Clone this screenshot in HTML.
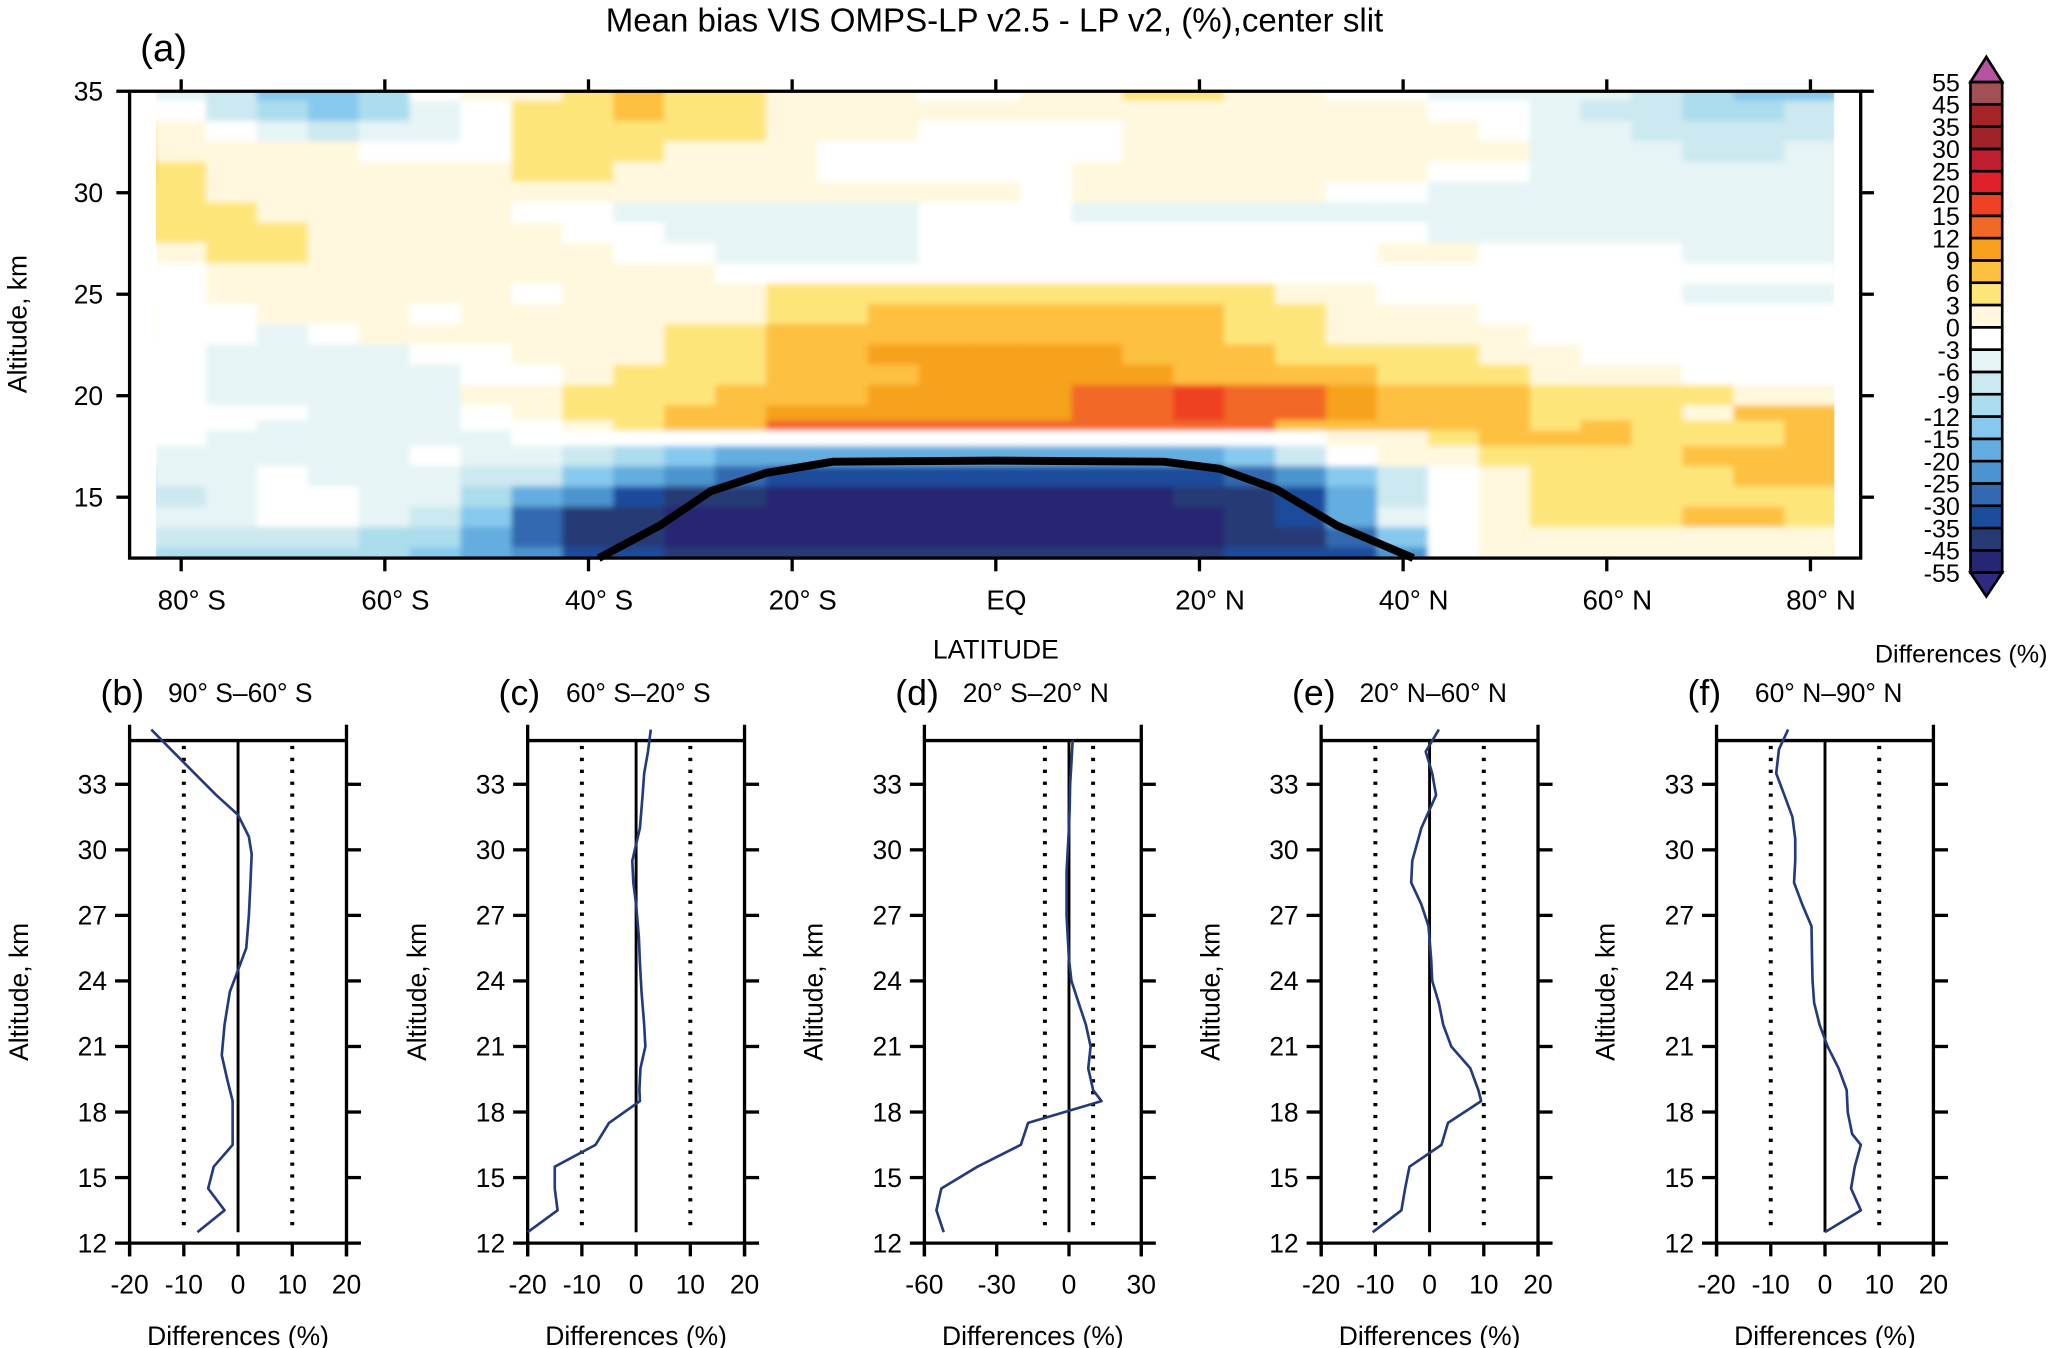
<!DOCTYPE html>
<html><head><meta charset="utf-8"><title>Mean bias VIS OMPS-LP</title>
<style>
html,body{margin:0;padding:0;background:#fff;}
svg{display:block;font-family:"Liberation Sans",Arial,sans-serif;}
</style></head>
<body>
<svg id="fig" width="2067" height="1348" viewBox="0 0 1563 1019.3" preserveAspectRatio="none" xmlns="http://www.w3.org/2000/svg">
<defs>
<clipPath id="mainclip"><rect x="118" y="69" width="1269" height="353"/></clipPath>
<filter id="soft" x="-2%" y="-2%" width="104%" height="104%"><feGaussianBlur stdDeviation="2.2"/></filter>
</defs>
</svg>
<script>
// ---------- Panel (a) data ----------
const latCats=[-85,-80,-75,-70,-65,-60,-55,-50,-45,-40,-35,-30,-25,-20,-15,-10,-5,0,5,10,15,20,25,30,35,40,45,50,55,60,65,70,75,80,85];
const altLevels=[35,34,33,32,31,30,29,28,27,26,25,24,23,22,21,20,19,18.5,18,17,16,15,14,13,12];
const biasRow35=[-1,-4,-7,-13,-13,-10,-1,1,1,4,7,4,4,1,1,1,-1,-1,1,1,4,4,1,1,-1,-1,-4,-4,-4,-4,-7,-10,-13,-13,-7];
const biasRow34=[1,-1,-7,-10,-13,-10,-4,-1,4,4,7,4,4,1,1,1,1,1,1,1,1,1,1,1,1,1,-1,-1,-4,-7,-7,-10,-10,-7,-4];
const biasRow33=[4,1,-1,-4,-7,-4,-4,-1,4,4,4,4,4,1,1,1,-1,-1,-1,-1,1,1,1,1,1,1,1,-1,-4,-4,-7,-7,-7,-7,-4];
const biasRow32=[7,1,1,1,1,-1,-1,-1,4,4,4,1,1,1,-1,-1,-1,-1,-1,-1,1,1,1,1,1,1,1,1,-4,-4,-4,-7,-7,-4,-4];
const biasRow31=[7,4,1,1,1,1,1,1,4,4,1,1,1,1,-1,-1,-1,-1,-1,1,1,1,1,1,1,1,-1,-1,-4,-4,-4,-4,-4,-4,-4];
const biasRow30=[4,4,1,1,1,1,1,1,1,1,1,1,1,1,1,1,1,1,-1,1,1,1,1,1,-1,-1,-4,-4,-4,-4,-4,-4,-4,-4,-4];
const biasRow29=[4,4,4,1,1,1,1,1,-1,-1,-4,-4,-4,-4,-4,-4,-1,-1,-1,-4,-4,-4,-4,-4,-4,-4,-4,-4,-4,-4,-4,-4,-4,-4,-4];
const biasRow28=[4,4,4,4,1,1,1,1,1,-1,-1,-4,-4,-4,-4,-4,-1,-1,-1,-1,-1,-1,-1,-1,-1,-1,-4,-4,-4,-4,-4,-4,-4,-4,-4];
const biasRow27=[-1,1,4,4,1,1,1,1,1,1,-1,-1,-4,-4,-4,-4,-1,-1,-1,-1,-1,-1,-1,-1,-1,1,1,-1,-1,-1,-1,-4,-4,-4,-4];
const biasRow26=[-1,-1,1,1,1,1,1,1,1,1,1,1,-1,-1,-1,-1,-1,-1,-1,-1,-1,-1,-1,-1,-1,-1,-1,-1,-1,-1,-1,-1,-1,-1,-4];
const biasRow25=[-1,-1,1,1,1,1,1,1,-1,1,1,1,1,4,4,4,4,4,4,4,4,4,4,1,1,-1,-1,-1,-1,-1,-1,-4,-4,-4,-1];
const biasRow24=[1,-1,-1,1,1,1,-1,1,1,1,1,1,1,4,4,7,7,7,7,7,7,7,4,4,1,1,1,-1,-1,-1,-1,-1,-1,-1,-1];
const biasRow23=[1,-1,-1,-4,-1,1,1,1,1,1,1,4,4,7,7,7,7,7,7,7,7,7,4,4,1,1,1,1,-1,-1,-1,-1,-1,-1,-1];
const biasRow22=[-1,-1,-4,-4,-4,-4,-1,-1,1,1,1,4,4,7,7,10,10,10,10,10,7,7,7,4,4,4,4,1,1,-1,-1,-1,-1,-1,-1];
const biasRow21=[-1,-1,-4,-4,-4,-4,-4,-1,-1,1,4,4,4,7,7,7,10,10,10,10,10,7,7,7,7,4,4,4,1,1,1,-1,-1,-1,-1];
const biasRow20=[-1,-1,-4,-4,-4,-4,-4,1,1,4,4,4,7,7,7,10,10,10,10,13,13,17,13,13,10,7,7,7,4,4,4,4,1,1,1];
const biasRow19=[-1,-1,-1,-1,-4,-4,-4,-1,1,4,4,7,7,10,10,10,10,10,10,13,13,17,13,13,10,7,7,7,4,4,4,1,7,7,7];
const biasRow185=[-1,-1,-1,-4,-4,-4,-4,-1,-1,1,4,7,7,13,13,13,13,13,13,13,13,13,13,7,7,7,7,7,4,7,4,4,4,7,7];
const biasRow18=[-1,-1,-4,-4,-4,-4,-4,-4,-1,-1,-1,-1,-1,-1,-1,-1,-1,-1,-1,-1,-1,-1,-1,-1,1,1,4,7,7,7,4,4,4,7,7];
const biasRow17=[-1,-4,-4,-4,-4,-4,-1,-4,-4,-7,-10,-13,-17,-17,-17,-17,-17,-17,-17,-17,-17,-17,-13,-7,-1,1,1,4,4,4,4,7,7,7,7];
const biasRow16=[-7,-4,-4,-1,-4,-4,-4,-7,-7,-13,-17,-22,-27,-32,-32,-32,-32,-32,-32,-32,-32,-32,-27,-22,-13,-7,-1,1,4,4,4,4,7,7,7];
const biasRow15=[-7,-7,-4,-1,-1,-4,-4,-10,-17,-22,-32,-40,-40,-50,-50,-50,-50,-50,-50,-50,-50,-40,-40,-32,-17,-7,-1,1,4,4,4,4,4,4,4];
const biasRow14=[-4,-4,-4,-1,-1,-4,-7,-13,-27,-40,-40,-50,-50,-50,-50,-50,-50,-50,-50,-50,-50,-50,-40,-32,-17,-4,-1,1,4,4,4,7,7,4,4];
const biasRow13=[-4,-7,-7,-7,-7,-10,-10,-17,-27,-40,-40,-50,-50,-50,-50,-50,-50,-50,-50,-50,-50,-50,-40,-40,-27,-13,-1,1,1,1,1,1,1,1,1];
const biasRow12=[-7,-10,-10,-10,-10,-10,-13,-17,-22,-32,-32,-40,-40,-40,-40,-40,-40,-40,-40,-40,-40,-40,-32,-32,-32,-22,-1,1,1,1,1,1,1,1,4];
const biasField=[biasRow35,biasRow34,biasRow33,biasRow32,biasRow31,biasRow30,biasRow29,biasRow28,biasRow27,biasRow26,biasRow25,biasRow24,biasRow23,biasRow22,biasRow21,biasRow20,biasRow19,biasRow185,biasRow18,biasRow17,biasRow16,biasRow15,biasRow14,biasRow13,biasRow12];
const tropoLat=[-39,-33,-28,-22.5,-16,0,16.5,22,27.5,33.5,41];
const tropoAlt=[12,13.6,15.3,16.2,16.75,16.8,16.75,16.4,15.4,13.6,12];
const latTicks=[-80,-60,-40,-20,0,20,40,60,80];
const latTickLabels=["80° S","60° S","40° S","20° S","EQ","20° N","40° N","60° N","80° N"];
const altTicks=[15,20,25,30,35];
// colour scale
const cLevels=[-55,-45,-35,-30,-25,-20,-15,-12,-9,-6,-3,0,3,6,9,12,15,20,25,30,35,45,55];
const cLabels=["-55","-45","-35","-30","-25","-20","-15","-12","-9","-6","-3","0","3","6","9","12","15","20","25","30","35","45","55"];
const cColors=["#262673","#273a74","#1a4c9c","#3269b0","#4b94cf","#64ade0","#87c9ee","#acdded","#cce8f0","#e6f4f5","#ffffff","#fff8de","#fee57a","#fec03f","#f6a21e","#f26826","#ef4124","#e02028","#be1e2d","#a0232a","#a52428","#a35054"];
const cLow="#2e2a80", cHigh="#b853a0";

// ---------- Profile panels ----------
const bAlt=[35.5,34.5,33.5,32.5,31.6,30.6,29.8,28.5,27,25.5,24.5,23.5,22,20.6,19.5,18.5,17.5,16.5,15.5,14.5,13.5,12.5];
const bVal=[-16,-12,-8,-4,0,2,2.5,2.3,2,1.5,0,-1.5,-2.5,-3,-2,-1,-1,-1,-4.5,-5.5,-2.5,-7.5];
const cAlt=[35.5,34.5,33.5,32.5,31,29.5,28.5,27.5,26,24.8,23.5,22,21,20,19,18.5,17.5,16.5,15.5,14.5,13.5,12.5];
const cVal=[2.7,2.2,1.5,1.2,0.7,-0.7,-0.5,0,0.5,0.7,1,1.5,1.7,0.8,0.6,0.7,-5,-7.5,-15,-15,-14.5,-20];
const dAlt=[35,34,33,32,31,30,29,28,27,26,25,24,23,22,21,20,19,18.5,17.5,16.5,15.5,14.5,13.5,12.5];
const dVal=[1.5,1,0.5,0.3,0,-0.5,-1,-1,-1,-0.5,0,1,4,7,9,8,10,13.5,-17,-20,-38,-53,-55,-52];
const eAlt=[35.5,34.5,33.5,32.5,31,29.5,28.5,27.5,26.5,25,24,23,22,21,20,19,18.5,17.5,16.5,15.5,14.5,13.5,12.5];
const eVal=[1.7,-0.7,0.5,1.2,-1.5,-3.2,-3.4,-1.5,-0.2,0.3,0.5,1.7,2.5,4,7.5,9,9.5,3.4,2.2,-3.7,-4.5,-5.2,-10.5];
const fAlt=[35.5,34.6,33.5,32.5,31.5,30.5,29.5,28.5,27.5,26.5,25,24,23,22,21,20,19,18,17,16.5,15.5,14.5,13.5,12.5];
const fVal=[-6.8,-8.5,-9,-7.5,-6,-5.5,-5.5,-5.7,-4.2,-2.5,-2.4,-2.3,-2,-1,0.5,2.5,4,4.2,5,6.6,5.5,4.8,6.6,0];
const profAltTicks=[12,15,18,21,24,27,30,33];
const rangeSmall=[-20,20], rangeWide=[-60,30];
const ticksSmall=[-20,-10,0,10,20], ticksWide=[-60,-30,0,30];

const NS="http://www.w3.org/2000/svg";
const svg=document.getElementById('fig');
function mk(tag,attrs,parent){const e=document.createElementNS(NS,tag);for(const k in attrs)e.setAttribute(k,attrs[k]);(parent||svg).appendChild(e);return e;}
function txt(s,attrs,parent){const e=mk('text',attrs,parent);e.textContent=s;return e;}

const AX0=98,AX1=1407,AY0=69,AY1=422;
function xLat(l){return 753+7.7*l;}
function yAlt(a){return AY1-(a-12)*(AY1-AY0)/23;}
function colorOf(v){if(v<cLevels[0])return cLow;if(v>=cLevels[cLevels.length-1])return cHigh;for(let i=0;i<cLevels.length-1;i++){if(v>=cLevels[i]&&v<cLevels[i+1])return cColors[i];}return cHigh;}

const gClip=mk('g',{'clip-path':'url(#mainclip)'});


const gField=mk('g',{filter:'url(#soft)'},gClip);
for(let r=0;r<altLevels.length;r++){
  const aTop=r===0?altLevels[0]+0.5:(altLevels[r-1]+altLevels[r])/2;
  const aBot=r===altLevels.length-1?altLevels[r]-0.5:(altLevels[r]+altLevels[r+1])/2;
  for(let c=0;c<latCats.length;c++){
    const lL=c===0?latCats[0]-2.5:(latCats[c-1]+latCats[c])/2;
    const lR=c===latCats.length-1?latCats[c]+2.5:(latCats[c]+latCats[c+1])/2;
    const x=xLat(lL),w=xLat(lR)-x,y=yAlt(aTop),h=yAlt(aBot)-y;
    const cell=mk('rect',{x:x-0.5,y:y-0.5,width:w+1,height:h+1,fill:colorOf(biasField[r][c])},gField);
    
    
  }
}
let tp='';for(let i=0;i<tropoLat.length;i++){tp+=(i?'L':'M')+xLat(tropoLat[i]).toFixed(1)+','+yAlt(tropoAlt[i]).toFixed(1);}
const tpl=mk('path',{d:tp,fill:'none',stroke:'#000','stroke-width':6,'stroke-linejoin':'round'});



const fa=mk('rect',{x:AX0,y:AY0,width:AX1-AX0,height:AY1-AY0,fill:'none',stroke:'#000','stroke-width':2.5});


latTicks.forEach((l,i)=>{
  const x=xLat(l);
  mk('line',{x1:x,y1:AY1,x2:x,y2:AY1+10,stroke:'#000','stroke-width':2.5});
  mk('line',{x1:x,y1:AY0,x2:x,y2:AY0-9,stroke:'#000','stroke-width':2.5});
  const t=txt(latTickLabels[i],{x:x+8,y:461,'font-size':21,'text-anchor':'middle'});
  
  
});
altTicks.forEach(a=>{
  const y=yAlt(a);
  mk('line',{x1:AX0-10,y1:y,x2:AX0,y2:y,stroke:'#000','stroke-width':2.5});
  mk('line',{x1:AX1,y1:y,x2:AX1+10,y2:y,stroke:'#000','stroke-width':2.5});
  const t=txt(String(a),{x:78,y:y+7,'font-size':20,'text-anchor':'end'});
  
  
});
let t;
t=txt('Mean bias VIS OMPS-LP v2.5 - LP v2, (%),center slit',{x:752,y:24,'font-size':25,'text-anchor':'middle'});


t=txt('(a)',{x:106,y:46,'font-size':29});


t=txt('Altitude, km',{x:0,y:0,'font-size':20,'text-anchor':'middle',transform:'translate(20,245) rotate(-90)'});


t=txt('LATITUDE',{x:753,y:498,'font-size':20,'text-anchor':'middle'});



const CBX=1490,CBW=24,CBY0=62,CBY1=433;
const step=(CBY1-CBY0)/cColors.length;
const cb=mk('g',{});


cColors.forEach((col,i)=>{
  const y=CBY1-(i+1)*step;
  const r=mk('rect',{x:CBX,y:y,width:CBW,height:step,fill:col,stroke:'#000','stroke-width':2},cb);
  
  
});
const tu=mk('path',{d:`M${CBX},${CBY0} L${CBX+CBW/2},${CBY0-19} L${CBX+CBW},${CBY0} Z`,fill:cHigh,stroke:'#000','stroke-width':2},cb);


const td=mk('path',{d:`M${CBX},${CBY1} L${CBX+CBW/2},${CBY1+18} L${CBX+CBW},${CBY1} Z`,fill:cLow,stroke:'#000','stroke-width':2},cb);


cLabels.forEach((s,i)=>{
  const y=CBY1-i*step;
  const l=txt(s,{x:CBX-8,y:y+7,'font-size':19,'text-anchor':'end'},cb);
  
  
});
t=txt('Differences (%)',{x:1483,y:501,'font-size':19,'text-anchor':'middle'});



const PY0=560,PY1=940,PW=164;
const panels=[
 {x0:98,alt:bAlt,val:bVal,range:rangeSmall,ticks:ticksSmall,label:'(b)',title:'90° S–60° S',name:'panel-b'},
 {x0:399,alt:cAlt,val:cVal,range:rangeSmall,ticks:ticksSmall,label:'(c)',title:'60° S–20° S',name:'panel-c'},
 {x0:699,alt:dAlt,val:dVal,range:rangeWide,ticks:ticksWide,label:'(d)',title:'20° S–20° N',name:'panel-d'},
 {x0:999,alt:eAlt,val:eVal,range:rangeSmall,ticks:ticksSmall,label:'(e)',title:'20° N–60° N',name:'panel-e'},
 {x0:1298,alt:fAlt,val:fVal,range:rangeSmall,ticks:ticksSmall,label:'(f)',title:'60° N–90° N',name:'panel-f'}
];
function pyAlt(a){return PY1-(a-12)*(PY1-PY0)/23;}
panels.forEach(p=>{
  const g=mk('g',{});
  
  
  const xv=v=>p.x0+(v-p.range[0])*PW/(p.range[1]-p.range[0]);
  const x1=p.x0+PW;
  mk('line',{x1:p.x0,y1:548,x2:p.x0,y2:950,stroke:'#000','stroke-width':2.5},g);
  mk('line',{x1:x1,y1:548,x2:x1,y2:950,stroke:'#000','stroke-width':2.5},g);
  mk('line',{x1:p.x0,y1:PY0,x2:x1,y2:PY0,stroke:'#000','stroke-width':2.5},g);
  profAltTicks.forEach(a=>{
    const y=pyAlt(a);
    mk('line',{x1:p.x0-11,y1:y,x2:p.x0,y2:y,stroke:'#000','stroke-width':2.5},g);
    mk('line',{x1:x1,y1:y,x2:x1+11,y2:y,stroke:'#000','stroke-width':2.5},g);
    const l=txt(String(a),{x:p.x0-17,y:y+7,'font-size':20,'text-anchor':'end'},g);
    
    
  });
  mk('line',{x1:p.x0,y1:PY1,x2:x1,y2:PY1,stroke:'#000','stroke-width':2.5},g);
  p.ticks.forEach(v=>{
    const x=xv(v);
    mk('line',{x1:x,y1:PY1,x2:x,y2:PY1+10,stroke:'#000','stroke-width':2.5},g);
    const l=txt(String(v),{x:x,y:978,'font-size':20,'text-anchor':'middle'},g);
    
    
  });
  const yTop=PY0, yBot=pyAlt(12.5);
  const z=mk('line',{x1:xv(0),y1:yTop,x2:xv(0),y2:yBot,stroke:'#000','stroke-width':2.2},g);
  
  
  [-10,10].forEach(v=>{
    const d=mk('line',{x1:xv(v),y1:yTop+4,x2:xv(v),y2:yBot,stroke:'#000','stroke-width':3,'stroke-dasharray':'2.5,6.5'},g);
    
    
  });
  let dstr='';
  p.alt.forEach((a,i)=>{dstr+=(i?'L':'M')+xv(p.val[i]).toFixed(1)+','+pyAlt(a).toFixed(1);});
  const pl=mk('path',{d:dstr,fill:'none',stroke:'#233b7c','stroke-width':2,'stroke-linejoin':'round'},g);
  
  
  let l=txt(p.label,{x:p.x0-22,y:533,'font-size':27},g);
  
  
  l=txt(p.title,{x:p.x0+29,y:531,'font-size':20},g);
  
  
  l=txt('Altitude, km',{x:0,y:0,'font-size':20,'text-anchor':'middle',transform:`translate(${p.x0-77},750) rotate(-90)`},g);
  
  
  l=txt('Differences (%)',{x:p.x0+PW/2,y:1017,'font-size':20,'text-anchor':'middle'},g);
  
  
});
</script>
</body></html>
